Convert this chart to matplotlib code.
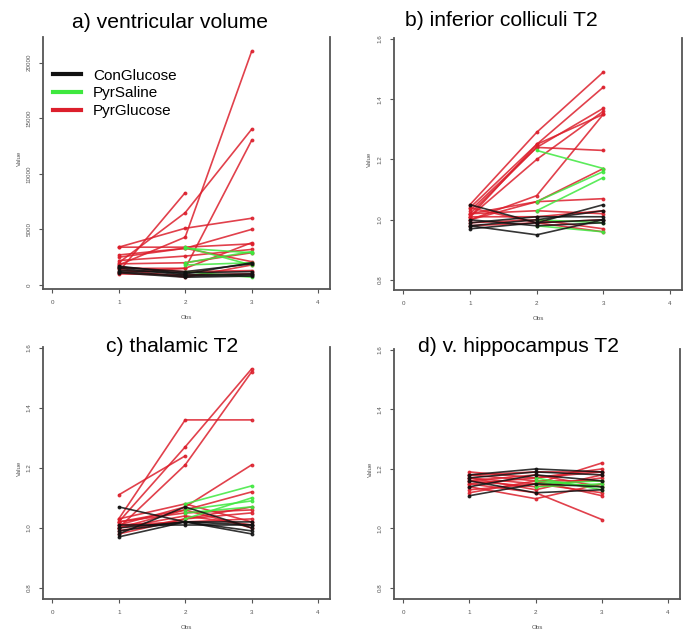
import matplotlib

matplotlib.use("Agg")
import matplotlib.pyplot as plt
import numpy as np
from matplotlib.lines import Line2D

plt.rcParams.update({"font.family": ["Liberation Sans", "DejaVu Sans"]})

nan = np.nan
obs = [1, 2, 3]
groups = ["ConGlucose", "PyrSaline", "PyrGlucose"]
colors = {"ConGlucose": "#111111", "PyrSaline": "#3ee83e", "PyrGlucose": "#dc1f2c"}

# ventricular volume, one row per animal, values at obs 1, 2, 3
vv_con = [[1500, 900, 1000], [1200, 800, 900], [1700, 1000, 2000],
          [1300, 1100, 1200], [1100, 700, 800], [1600, 1200, 1900]]
vv_sal = [[nan, 3300, 2900], [nan, 2000, 3000], [nan, 1200, 700],
          [nan, 1800, 2000], [nan, 3400, 1800]]
vv_glu = [[1800, 4300, 21000], [2000, 6500, 14000], [1500, 1500, 13000],
          [1200, 8300, nan], [3400, 5100, 6000], [2700, 3300, 5000],
          [3400, 3400, 3700], [2200, 2600, 3200], [1900, 2000, 2900],
          [1000, 900, 1000], [1400, 700, 1800], [2500, 3300, 2100],
          [1100, 1500, 3800], [1600, 1200, 1300]]

# inferior colliculi T2
ic_con = [[0.98, 0.95, 1.00], [0.97, 0.99, 1.05], [0.98, 1.00, 1.03],
          [1.05, 0.99, 1.00], [0.99, 1.01, 1.01], [1.00, 0.98, 0.99]]
ic_sal = [[nan, 1.23, 1.17], [nan, 1.03, 1.14], [nan, 0.98, 0.96],
          [nan, 1.06, 1.16], [nan, 1.00, 0.99]]
ic_glu = [[1.05, 1.29, 1.49], [1.04, 1.25, 1.44], [1.02, 1.24, 1.37],
          [1.01, 1.20, 1.36], [1.00, 1.08, 1.35], [1.03, 1.24, 1.23],
          [1.00, 1.06, 1.17], [1.02, 1.06, 1.07], [1.01, 1.01, 1.03],
          [0.99, 1.00, 0.97], [1.04, 0.99, 0.96], [1.02, 1.03, 1.02],
          [0.98, 0.99, 1.00], [1.01, 1.25, 1.35]]

# thalamic T2
th_con = [[1.07, 1.02, 0.99], [0.97, 1.02, 1.01], [0.98, 1.07, 1.00],
          [1.01, 1.01, 1.01], [1.00, 1.02, 1.02], [0.99, 1.02, 0.98]]
th_sal = [[nan, 1.08, 1.14], [nan, 1.06, 1.09], [nan, 1.03, 1.10],
          [nan, 1.05, 1.07]]
th_glu = [[1.02, 1.27, 1.53], [1.00, 1.21, 1.52], [1.03, 1.36, 1.36],
          [1.11, 1.24, nan], [1.01, 1.07, 1.21], [1.00, 1.06, 1.12],
          [0.99, 1.03, 1.07], [1.02, 1.05, 1.06], [1.01, 1.02, 1.03],
          [0.98, 1.03, 1.05], [1.03, 1.08, 1.02], [1.00, 1.04, 1.01],
          [1.02, 1.06, 1.00]]

# ventral hippocampus T2
hp_con = [[1.11, 1.15, 1.14], [1.18, 1.20, 1.19], [1.16, 1.12, 1.13],
          [1.17, 1.19, 1.18], [1.14, 1.18, 1.16]]
hp_sal = [[nan, 1.16, 1.14], [nan, 1.15, 1.16], [nan, 1.17, 1.13],
          [nan, 1.14, 1.15]]
hp_glu = [[1.18, 1.19, 1.19], [1.17, 1.15, 1.22], [1.16, 1.14, 1.17],
          [1.15, 1.12, 1.03], [1.14, 1.10, 1.15], [1.19, 1.17, 1.20],
          [1.13, 1.15, 1.12], [1.16, 1.18, 1.14], [1.17, 1.13, 1.18],
          [1.12, 1.16, 1.11], [1.18, 1.16, 1.16], [1.15, 1.17, 1.19]]

titles = ["a) ventricular volume", "b) inferior colliculi T2",
          "c) thalamic T2", "d) v. hippocampus T2"]
panel_data = [
    {"ConGlucose": vv_con, "PyrSaline": vv_sal, "PyrGlucose": vv_glu},
    {"ConGlucose": ic_con, "PyrSaline": ic_sal, "PyrGlucose": ic_glu},
    {"ConGlucose": th_con, "PyrSaline": th_sal, "PyrGlucose": th_glu},
    {"ConGlucose": hp_con, "PyrSaline": hp_sal, "PyrGlucose": hp_glu},
]
vv_ticks = [0, 5000, 10000, 15000, 20000]
t2_ticks = [0.8, 1.0, 1.2, 1.4, 1.6]

W, H = 695, 642
# axes boxes in pixels: left, top, right, bottom
boxes = [(43, 37, 330, 289), (394, 38, 682, 290),
         (43, 347, 330, 599), (394, 349, 680, 599)]
ylims = [(-360, 22300), (0.767, 1.603), (0.763, 1.603), (0.763, 1.603)]
title_pos = [(170, 22), (501, 20), (172, 347), (519, 347)]

fig = plt.figure(figsize=(W / 100, H / 100), dpi=100)
axis_grey = "#555555"

for i, (l, t, r, b) in enumerate(boxes):
    ax = fig.add_axes([l / W, 1 - b / H, (r - l) / W, (b - t) / H])
    data = panel_data[i]
    for g in ["PyrGlucose", "PyrSaline", "ConGlucose"]:
        for row in data[g]:
            ax.plot(obs, row, color=colors[g], lw=1.2, alpha=0.85,
                    marker="o", ms=1.8, mec=colors[g], solid_capstyle="round")
    ax.set_xlim(-0.14, 4.18)
    ax.set_ylim(*ylims[i])
    ax.set_xticks([0, 1, 2, 3, 4])
    if i == 0:
        ax.set_yticks(vv_ticks)
        ax.set_yticklabels([str(v) for v in vv_ticks])
    else:
        ax.set_yticks(t2_ticks)
        ax.set_yticklabels([f"{v:.1f}" for v in t2_ticks])
    for lab in ax.get_yticklabels():
        lab.set_rotation(90)
        lab.set_va("center")
    ax.tick_params(labelsize=4.5, colors=axis_grey, length=3, width=0.8, pad=5)
    ax.spines["top"].set_visible(False)
    for s in ["left", "bottom", "right"]:
        ax.spines[s].set_color(axis_grey)
        ax.spines[s].set_linewidth(1.3)
    ax.set_xlabel("Obs", fontsize=4.5, color=axis_grey, labelpad=7)
    ax.set_ylabel("Value", fontsize=4.5, color=axis_grey, labelpad=3)
    ax.yaxis.set_label_coords(-0.075, 0.52)
    tx, ty = title_pos[i]
    fig.text(tx / W, 1 - ty / H, titles[i], fontsize=15.2, ha="center", va="center")

    if i == 0:
        handles = [Line2D([], [], color=colors[g], lw=3) for g in groups]
        ax.legend(handles, groups, loc="upper left", frameon=False, fontsize=11,
                  bbox_to_anchor=(0.035, 0.875), borderpad=0, borderaxespad=0,
                  handlelength=1.8, handletextpad=0.8, labelspacing=0.25)

fig.savefig("out.png", dpi=100)
